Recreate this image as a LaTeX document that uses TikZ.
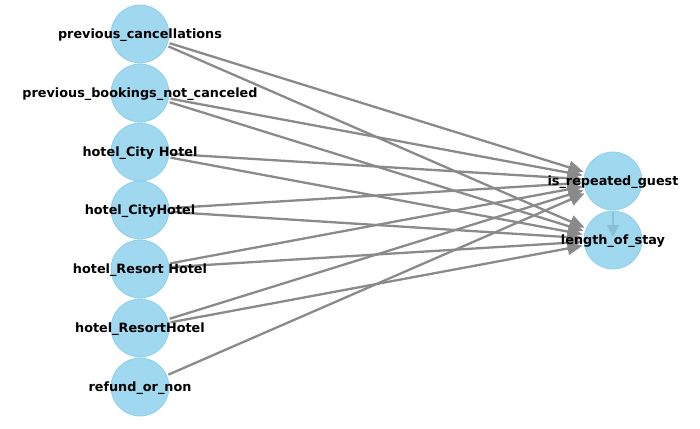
\documentclass[tikz,border=0pt]{standalone}
\usepackage{fontspec}
\setmainfont{DejaVu Sans}
\usetikzlibrary{arrows.meta}
\definecolor{skyb}{RGB}{135,206,235}
\definecolor{edgegray}{RGB}{138,138,138}
\pgfdeclarelayer{bg}
\pgfsetlayers{bg,main}
\begin{document}
\begin{tikzpicture}[x=1pt,y=-1pt,
  vnode/.style={circle,fill=skyb,fill opacity=0.8,draw=skyb,draw opacity=0.9,line width=0.8pt,minimum size=58pt,inner sep=0pt,outer sep=2pt},
  vlabel/.style={font=\fontsize{12.8}{14}\selectfont\bfseries,text=black,inner sep=0pt,yshift=-1.2pt},
  edge/.style={draw=edgegray,line width=2.3pt,-{Triangle[length=15pt,width=13pt]}}]
\useasboundingbox (0,0) rectangle (700,428);
% nodes
\node[vnode] (pc)  at (140,34)  {};
\node[vnode] (pb)  at (140,93)  {};
\node[vnode] (hc1) at (140,152) {};
\node[vnode] (hc2) at (140,210) {};
\node[vnode] (hr1) at (140,269) {};
\node[vnode] (hr2) at (140,328) {};
\node[vnode] (ref) at (140,387) {};
\node[vnode] (isr) at (613,181) {};
\node[vnode] (los) at (613,240) {};
% labels
\node[vlabel] (lpc)  at (pc)  {previous\_cancellations};
\node[vlabel] (lpb)  at (pb)  {previous\_bookings\_not\_canceled};
\node[vlabel] (lhc1) at (hc1) {hotel\_City Hotel};
\node[vlabel] (lhc2) at (hc2) {hotel\_CityHotel};
\node[vlabel] (lhr1) at (hr1) {hotel\_Resort Hotel};
\node[vlabel] (lhr2) at (hr2) {hotel\_ResortHotel};
\node[vlabel] (lref) at (ref) {refund\_or\_non};
\node[vlabel] (lisr) at (isr) {is\_repeated\_guest};
\node[vlabel] (llos) at (los) {length\_of\_stay};
% edges
\begin{pgfonlayer}{bg}
\foreach \s in {pc,pb,hc1,hc2,hr1,hr2,ref}{
  \draw[edge] (\s) -- (isr);
}
\foreach \s in {pc,pb,hc1,hc2,hr1,hr2}{
  \draw[edge] (\s) -- (los);
}
\draw[edge,line width=1.8pt,-{Triangle[length=12pt,width=12pt]},shorten >=3pt] (isr.south) -- (los.center);
\end{pgfonlayer}
\end{tikzpicture}
\end{document}
